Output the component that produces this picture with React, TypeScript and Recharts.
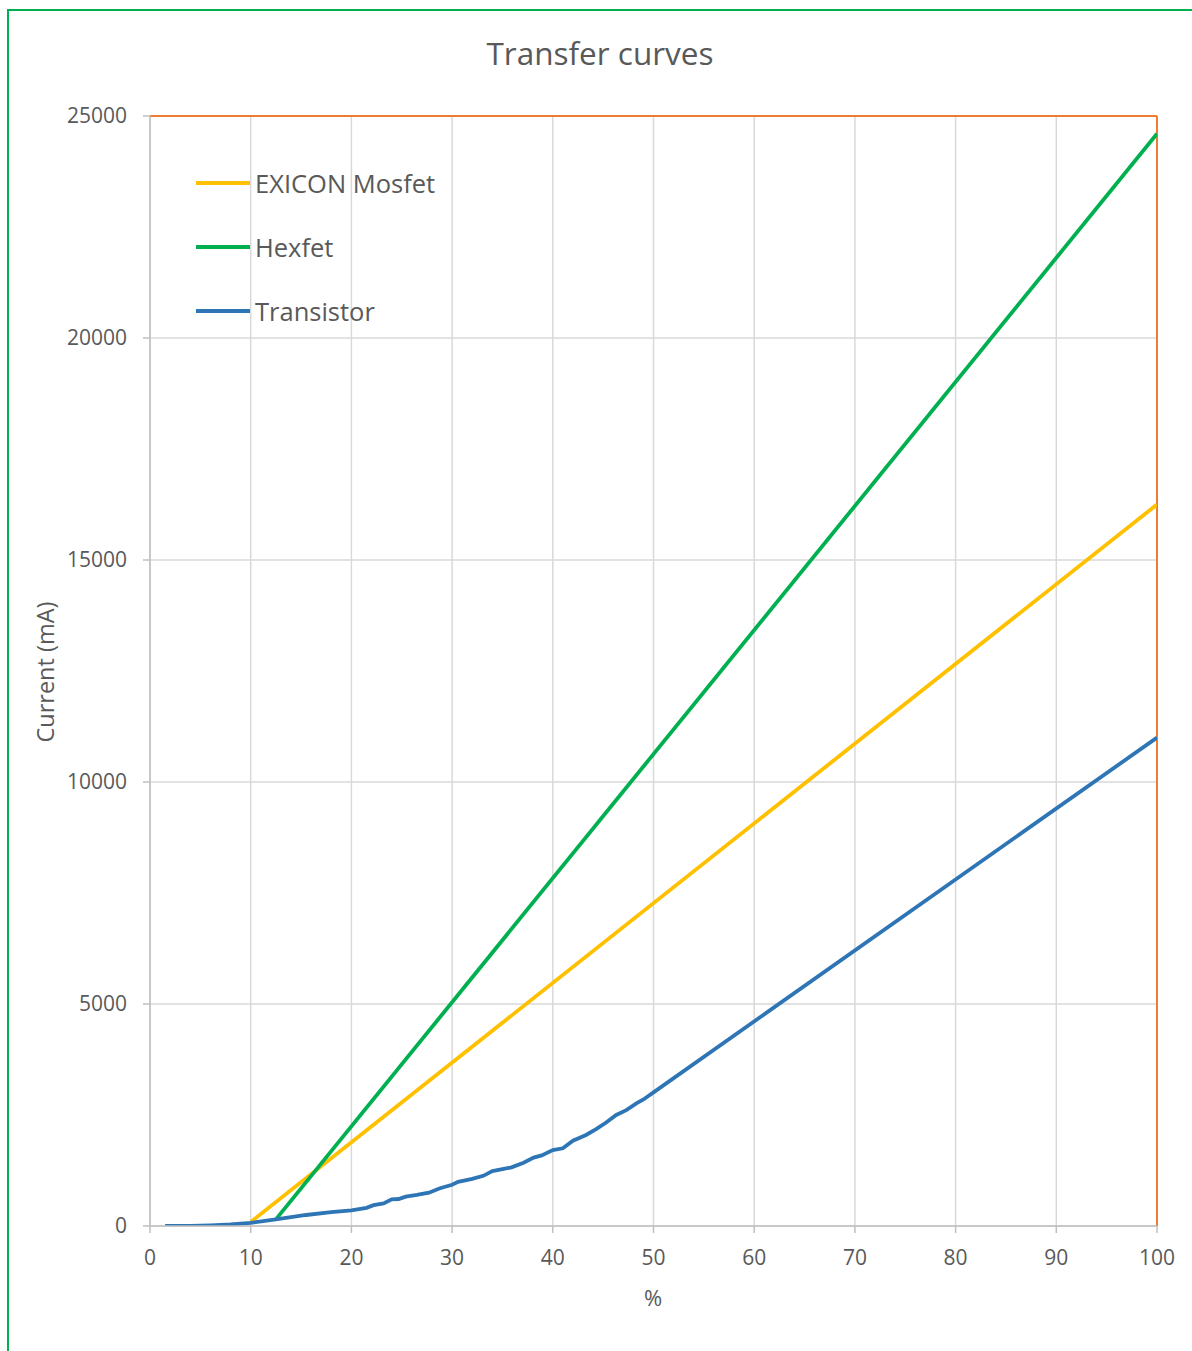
import { LineChart, Line, XAxis, YAxis, CartesianGrid, ReferenceLine } from 'recharts';

// x = drive level (%), y = current (mA)
const exiconPct = [10, 100];
const exiconMa = [90, 16250];

const hexfetPct = [12.5, 100];
const hexfetMa = [150, 24600];

const transistorPct = [
    1.5, 4, 6, 8, 10, 12.5, 15.5, 18, 20, 21.5, 22.2, 23.2, 24, 24.7, 25.4, 26.5, 27.7, 28.8, 30, 30.6,
    32, 33.1, 34, 35, 35.9, 37.1, 38.1, 38.9, 40, 41, 42, 43.3, 44.3, 45.3, 46.3, 47.3, 48.3, 49, 50, 100,
];
const transistorMa = [
    0, 5, 15, 35, 70, 150, 248, 310, 350, 410, 470, 510, 600, 608, 660, 700, 750, 850, 930, 995,
    1060, 1130, 1235, 1280, 1320, 1425, 1540, 1590, 1710, 1750, 1920, 2050, 2180, 2330, 2500, 2610, 2760, 2850, 3010, 11000,
];

const xTicks = [0, 10, 20, 30, 40, 50, 60, 70, 80, 90, 100];
const yTicks = [0, 5000, 10000, 15000, 20000, 25000];

const toPoints = (xs: number[], ys: number[]) => xs.map((x, i) => ({ x, y: ys[i] }));

const series = [
    { name: 'EXICON Mosfet', color: '#FFC000', data: toPoints(exiconPct, exiconMa) },
    { name: 'Hexfet', color: '#00B050', data: toPoints(hexfetPct, hexfetMa) },
    { name: 'Transistor', color: '#2E75B6', data: toPoints(transistorPct, transistorMa) },
];

const FONT = '"Open Sans", sans-serif';
const TEXT = '#595959';

// legend sits inside the plot area, top-left
function LegendBox() {
    return (
        <div style={{ position: 'absolute', left: 196, top: 151, fontFamily: FONT }}>
            {series.map((s) => (
                <div key={s.name} style={{ display: 'flex', alignItems: 'center', height: 64 }}>
                    <div style={{ width: 54, height: 3.5, background: s.color, marginRight: 5 }} />
                    <span style={{ fontSize: 25.5, color: TEXT }}>{s.name}</span>
                </div>
            ))}
        </div>
    );
}

export default function App() {
    return (
        <div style={{ position: 'absolute', left: 0, top: 0, width: 1192, height: 1351, background: '#fff', overflow: 'hidden' }}>
            <div
                style={{
                    position: 'absolute',
                    left: 7,
                    top: 9,
                    width: 1300,
                    height: 1500,
                    borderLeft: '2px solid #00B050',
                    borderTop: '2px solid #00B050',
                }}
            />
            <div
                style={{
                    position: 'absolute',
                    left: 0,
                    width: 1192,
                    top: 31,
                    textAlign: 'center',
                    paddingLeft: 4,
                    fontFamily: FONT,
                    fontSize: 31.5,
                    color: TEXT,
                }}
            >
                Transfer curves
            </div>
            <div style={{ position: 'absolute', left: 0, top: 0 }}>
                <LineChart width={1192} height={1351} margin={{ top: 116, right: 35, left: 90, bottom: 95 }}>
                    <CartesianGrid stroke="#D9D9D9" strokeWidth={1.5} />
                    <XAxis
                        type="number"
                        dataKey="x"
                        domain={[0, 100]}
                        ticks={xTicks}
                        height={30}
                        stroke="#BFBFBF"
                        strokeWidth={1.5}
                        tickSize={7}
                        tickMargin={17}
                        tick={{ fill: TEXT, fontSize: 21, fontFamily: FONT }}
                        allowDataOverflow
                    />
                    <YAxis
                        type="number"
                        dataKey="y"
                        domain={[0, 25000]}
                        ticks={yTicks}
                        width={60}
                        stroke="#BFBFBF"
                        strokeWidth={1.5}
                        tickSize={7}
                        tickMargin={16}
                        tick={{ fill: TEXT, fontSize: 21, fontFamily: FONT }}
                        allowDataOverflow
                    />
                    <ReferenceLine y={25000} stroke="#ED7D31" strokeWidth={2} />
                    <ReferenceLine x={100} stroke="#ED7D31" strokeWidth={2} />
                    {series.map((s) => (
                        <Line
                            key={s.name}
                            name={s.name}
                            data={s.data}
                            dataKey="y"
                            type="linear"
                            stroke={s.color}
                            strokeWidth={3.8}
                            dot={false}
                            isAnimationActive={false}
                        />
                    ))}
                </LineChart>
            </div>
            <LegendBox />
            <div
                style={{
                    position: 'absolute',
                    left: 603,
                    width: 100,
                    top: 1282,
                    textAlign: 'center',
                    fontFamily: FONT,
                    fontSize: 22,
                    color: TEXT,
                }}
            >
                %
            </div>
            <div
                style={{
                    position: 'absolute',
                    left: 45,
                    top: 672,
                    transform: 'translate(-50%, -50%) rotate(-90deg)',
                    whiteSpace: 'nowrap',
                    fontFamily: FONT,
                    fontSize: 23.5,
                    color: TEXT,
                }}
            >
                Current (mA)
            </div>
        </div>
    );
}
